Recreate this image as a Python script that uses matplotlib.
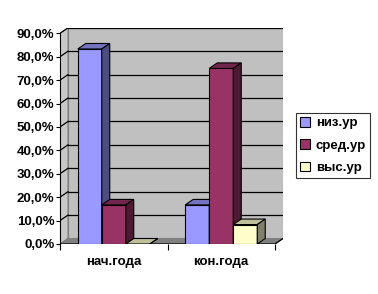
import numpy as np
import matplotlib.pyplot as plt
from matplotlib.patches import Polygon, Patch

plt.rcParams['font.family'] = ['Liberation Sans', 'DejaVu Sans']
plt.rcParams['font.weight'] = 'bold'

categories = ['нач.года', 'кон.года']
series = ['низ.ур', 'сред.ур', 'выс.ур']
values = [[83.3, 16.7],   # низ.ур
          [16.7, 75.0],   # сред.ур
          [0.0, 8.3]]     # выс.ур
yticks = [0, 10, 20, 30, 40, 50, 60, 70, 80, 90]

front = ['#9999FF', '#993366', '#FFFFCC']
top_c = ['#7373BF', '#73264D', '#BFBF99']
side_c = ['#4D4D80', '#4D1A33', '#80806A']

fig = plt.figure(figsize=(3.78, 2.94), dpi=100)
W, H = 378, 294
# front plot box in pixels
x0, x1 = 60, 275
yb, yt = 244, 33.3
ddx, ddy = 8, 5.5
ax = fig.add_axes([x0 / W, (H - yb) / H, (x1 + ddx - x0) / W, (yb - yt + ddy) / H])

ppx = (x1 - x0) / 2.0
ppy = (yb - yt) / 90.0
dx = ddx / ppx
dy = ddy / ppy
xl, xr = -0.5, 1.5
ax.set_xlim(xl, xr + dx)
ax.set_ylim(0, 90 + dy)
ax.set_facecolor('none')

# walls
ax.add_patch(Polygon([(xl + dx, dy), (xr + dx, dy), (xr + dx, 90 + dy), (xl + dx, 90 + dy)],
                     closed=True, fc='#C0C0C0', ec='#808080', lw=0.8, zorder=0))
ax.add_patch(Polygon([(xl, 0), (xl + dx, dy), (xl + dx, 90 + dy), (xl, 90)],
                     closed=True, fc='#C8C8C8', ec='#808080', lw=0.8, zorder=0))
ax.add_patch(Polygon([(xl, 0), (xr, 0), (xr + dx, dy), (xl + dx, dy)],
                     closed=True, fc='#808080', ec='#808080', lw=0.8, zorder=0.5))
for v in yticks[1:]:
    ax.plot([xl + dx, xr + dx], [v + dy, v + dy], color='black', lw=0.9, zorder=0.3)
    ax.plot([xl, xl + dx], [v, v + dy], color='black', lw=0.9, zorder=0.3)
ax.plot([xl, xr, xr + dx], [0, 0, dy], color='black', lw=0.9, zorder=0.6)

# bars
w = 24 / ppx
x = np.arange(len(categories))
for j in range(len(categories)):
    for i in range(len(series)):
        h = values[i][j]
        left = x[j] + (i - 1) * w - w / 2
        z = 2 + j * 10 + i * 2
        ax.bar(left, h, width=w, align='edge', color=front[i], edgecolor='black',
               lw=0.8, zorder=z)
        ax.add_patch(Polygon([(left, h), (left + w, h), (left + w + dx, h + dy), (left + dx, h + dy)],
                             closed=True, fc=top_c[i], ec='black', lw=0.8, zorder=z + 1))
        ax.add_patch(Polygon([(left + w, 0), (left + w + dx, dy), (left + w + dx, h + dy), (left + w, h)],
                             closed=True, fc=side_c[i], ec='black', lw=0.8, zorder=z + 1))

for s in ['top', 'right', 'bottom']:
    ax.spines[s].set_visible(False)
ax.spines['left'].set_bounds(0, 90)
ax.spines['left'].set_linewidth(0.8)
ax.set_yticks(yticks)
ax.set_yticklabels([('%.1f%%' % v).replace('.', ',') for v in yticks], fontsize=9.5)
ax.tick_params(axis='y', length=3, width=0.8, pad=1)
ax.set_xticks([xl, 0.5, xr])
ax.set_xticklabels([])
ax.tick_params(axis='x', length=4, width=0.8, direction='out')
for j, c in enumerate(categories):
    ax.text(x[j], -5, c, ha='center', va='top', fontsize=9.5)

handles = [Patch(fc=front[i], ec='black', lw=0.8) for i in range(len(series))]
leg = fig.legend(handles, series, loc='upper left', bbox_to_anchor=(296 / W, 1 - 113 / H),
                 fontsize=9.5, frameon=True, fancybox=False, handlelength=0.75, handleheight=0.75,
                 handletextpad=0.45, labelspacing=0.75, borderpad=0.3, borderaxespad=0)
leg.get_frame().set_edgecolor('black')
leg.get_frame().set_linewidth(0.8)

fig.savefig('out.png', dpi=100)
